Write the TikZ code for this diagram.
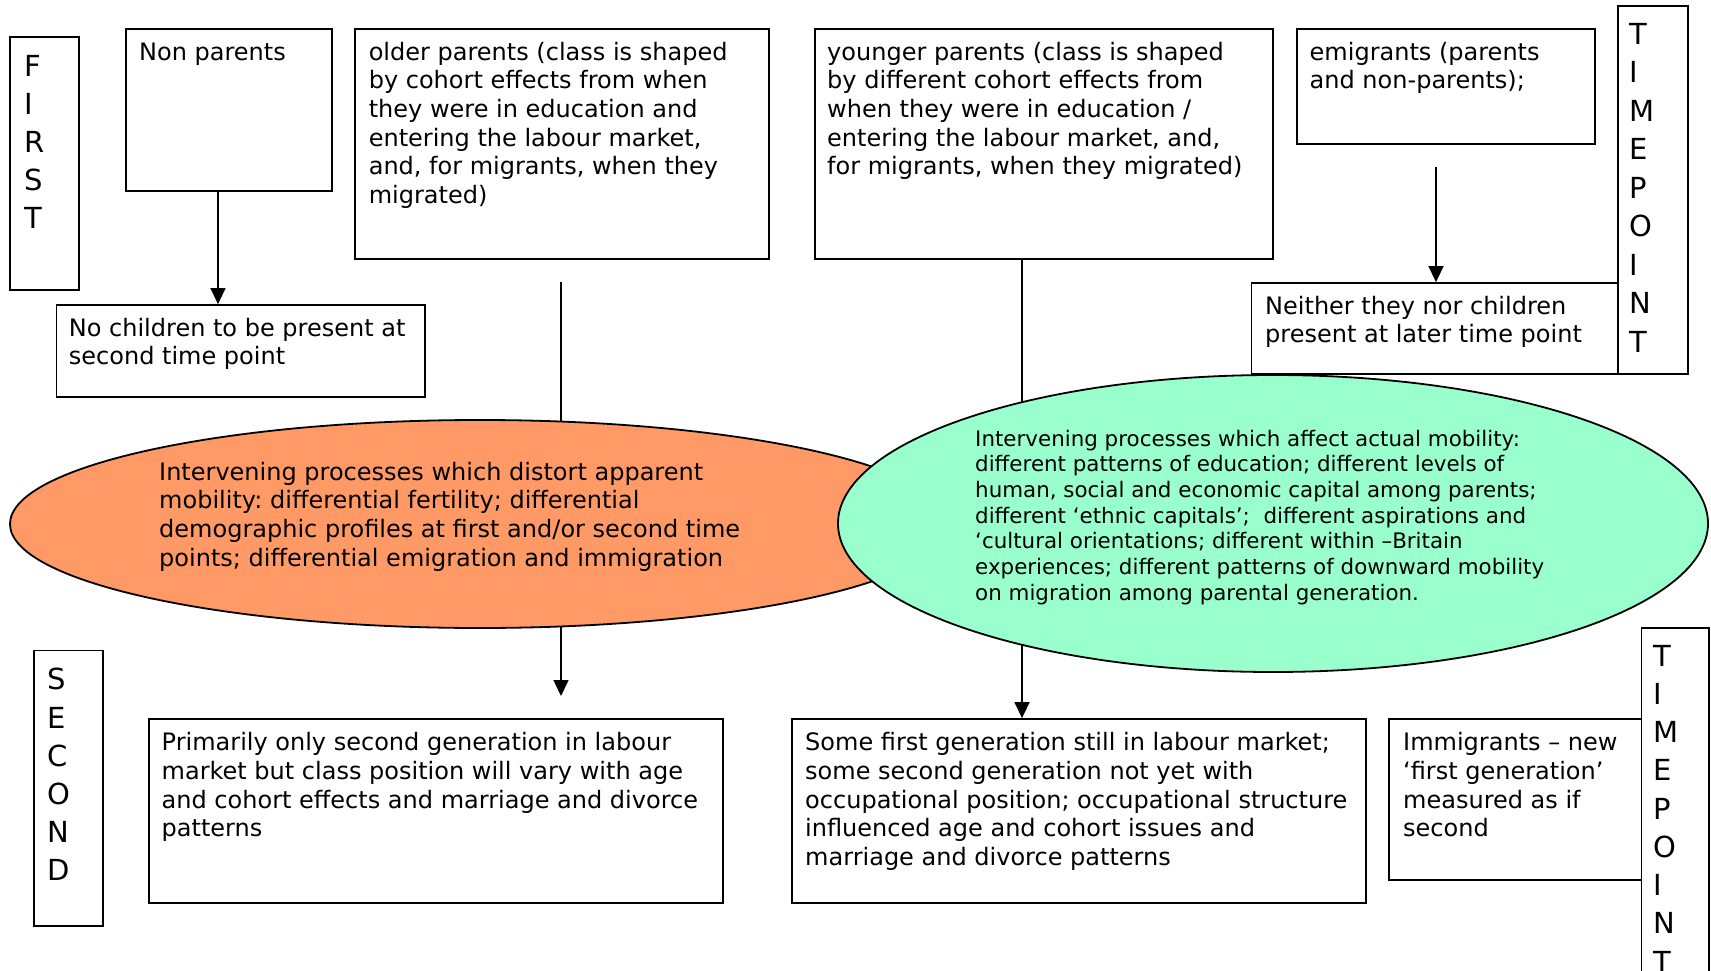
\documentclass[tikz,border=0pt]{standalone}
\usepackage{fontspec}
\setmainfont{DejaVu Sans}
\frenchspacing
\usetikzlibrary{shapes.geometric,arrows.meta,fit}
\pgfdeclarelayer{bg}
\pgfsetlayers{bg,main}
\definecolor{orangefill}{HTML}{FF9966}
\definecolor{greenfill}{HTML}{99FFCC}
\begin{document}
\begin{tikzpicture}[x=1pt,y=-1pt,
  box/.style={draw, line width=1.8pt, inner sep=0pt},
  txt/.style={anchor=north west, inner sep=0pt, align=left, font=\fontsize{24}{28.7}\selectfont},
  smalltxt/.style={anchor=north west, inner sep=0pt, align=left, font=\fontsize{21.4}{25.7}\selectfont},
  letters/.style={anchor=north west, inner sep=0pt, align=left},
  oval/.style={draw, ellipse, line width=1.8pt, inner sep=0pt},
  conn/.style={line width=1.5pt},
  arr/.style={line width=1.5pt, -{Triangle[length=16pt,width=15pt]}}]
\useasboundingbox (0,0) rectangle (1711,971);

% boxes
\node[box, fit={(10,37) (79,290)}] (firstbox) {};
\node[box, fit={(126,29) (332,191)}] (np) {};
\node[box, fit={(355,29) (769,259)}] (op) {};
\node[box, fit={(815,29) (1273,259)}] (yp) {};
\node[box, fit={(1297,29) (1595,144)}] (em) {};
\node[box, fit={(1618,6) (1688,374)}] (tp1) {};
\node[box, fit={(56.5,305) (424.6,397)}] (nc) {};
\node[box, fit={(1251.5,283) (1618,374)}] (ne) {};
\node[box, fit={(34,650.5) (102.6,926)}] (secbox) {};
\node[box, fit={(148.7,719) (723,903)}] (prim) {};
\node[box, fit={(792,719) (1366,903)}] (sf) {};
\node[box, fit={(1389,719) (1641.5,880)}] (imm) {};
\node[box, fit={(1641.5,628) (1709,1010)}] (tp2) {};

% ellipses
\node[oval, fill=orangefill, minimum width=940pt, minimum height=208pt] (orange) at (480,524) {};
\node[oval, fill=greenfill, minimum width=870pt, minimum height=297pt] (green) at (1273,523.5) {};

% vertical letter columns (strut height = 0.7 x leading)
\node[letters, font=\fontsize{29}{37.8}\selectfont] (firsttxt) at (24,50.2) {\strut F\\I\\R\\S\\T};
\node[letters, font=\fontsize{29}{38.5}\selectfont] (tp1txt) at (1629,17) {\strut T\\I\\M\\E\\P\\O\\I\\N\\T};
\node[letters, font=\fontsize{29}{38.2}\selectfont] (sectxt) at (47,662.9) {\strut S\\E\\C\\O\\N\\D};
\node[letters, font=\fontsize{29}{38.25}\selectfont] (tp2txt) at (1653,639.2) {\strut T\\I\\M\\E\\P\\O\\I\\N\\T};

\node[txt] (nptxt) at (139,39.9) {\strut Non parents};
\node[txt] (optxt) at (368.6,39.9) {\strut older parents (class is shaped\\by cohort effects from when\\they were in education and\\entering the labour market,\\and, for migrants, when they\\migrated)};
\node[txt] (yptxt) at (827,39.9) {\strut younger parents (class is shaped\\by different cohort effects from\\when they were in education /\\entering the labour market, and,\\for migrants, when they migrated)};
\node[txt] (emtxt) at (1309.5,39.9) {\strut emigrants (parents\\and non-parents);};
\node[txt] (nctxt) at (68.7,316) {\strut No children to be present at\\second time point};
\node[txt] (netxt) at (1265,294) {\strut Neither they nor children\\present at later time point};
\node[txt] (ortxt) at (159,460) {\strut Intervening processes which distort apparent\\mobility: differential fertility; differential\\demographic profiles at first and/or second time\\points; differential emigration and immigration};
\node[smalltxt] (grtxt) at (975,428) {\strut Intervening processes which affect actual mobility:\\different patterns of education; different levels of\\human, social and economic capital among parents;\\different ‘ethnic capitals’;~ different aspirations and\\‘cultural orientations; different within –Britain\\experiences; different patterns of downward mobility\\on migration among parental generation.};
\node[txt] (primtxt) at (161.5,730.6) {\strut Primarily only second generation in labour\\market but class position will vary with age\\and cohort effects and marriage and divorce\\patterns};
\node[txt] (sftxt) at (805,730.6) {\strut Some first generation still in labour market;\\some second generation not yet with\\occupational position; occupational structure\\influenced age and cohort issues and\\marriage and divorce patterns};
\node[txt] (immtxt) at (1403,730.6) {\strut Immigrants – new\\‘first generation’\\measured as if\\second};

% connectors
\coordinate (opstart) at (561,282);
\coordinate (ortip) at (561,696);
\coordinate (emstart) at (1436,167);
\draw[arr] ([xshift=-11pt]np.south) -- ([xshift=-11pt]np.south |- nc.north);
\draw[arr] (emstart) -- (emstart |- ne.north);
\begin{pgfonlayer}{bg}
\draw[conn] (opstart) -- (opstart |- orange.center);
\draw[conn] ([xshift=-22pt]yp.south) -- ([xshift=-22pt]yp.south |- green.center);
\draw[arr] (ortip |- orange.center) -- (ortip);
\draw[arr] ([xshift=-57pt]sf.north |- green.center) -- ([xshift=-57pt]sf.north);
\end{pgfonlayer}
\end{tikzpicture}
\end{document}
